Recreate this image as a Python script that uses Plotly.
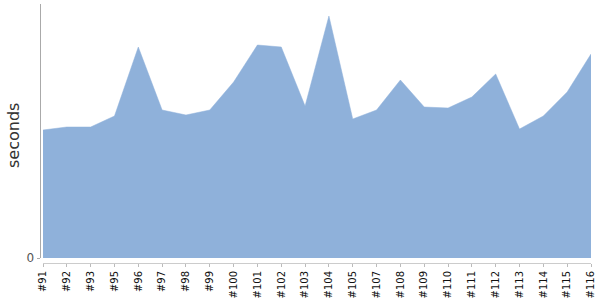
import plotly.graph_objects as go

builds = ["#91", "#92", "#93", "#95", "#96", "#97", "#98", "#99", "#100", "#101",
          "#102", "#103", "#104", "#105", "#107", "#108", "#109", "#110", "#111",
          "#112", "#113", "#114", "#115", "#116"]
seconds = [128, 131, 131, 142, 211, 148, 143, 148, 176, 213,
           211, 152, 242, 139, 148, 178, 151, 150, 161,
           184, 129, 142, 166, 204]

W, H = 600, 300
L, R, T, B = 0, 9, 4, 37
pw = W - L - R
ph = H - T - B

fig = go.Figure()
fig.add_trace(go.Scatter(
    x=list(range(len(builds))), y=seconds, mode="lines",
    fill="tozeroy", fillcolor="rgb(143,177,218)",
    line=dict(color="rgb(143,177,218)", width=0.5),
    hoverinfo="skip", showlegend=False,
))

fig.update_layout(
    width=W, height=H,
    margin=dict(l=L, r=R, t=T, b=B, pad=0, autoexpand=False),
    paper_bgcolor="white", plot_bgcolor="white",
    font=dict(family="DejaVu Sans", color="#222"),
    xaxis=dict(
        domain=[43 / pw, 1], range=[0, len(builds) - 1],
        tickmode="array", tickvals=list(range(len(builds))), ticktext=builds,
        tickangle=-90, tickfont=dict(family="DejaVu Sans", size=10, color="#111"),
        ticks="outside", ticklen=3, tickcolor="#bbb",
        showline=True, linecolor="#ccc", linewidth=1,
        showgrid=False, zeroline=False, automargin=False,
        anchor="free", position=0,
    ),
    yaxis=dict(
        domain=[5 / ph, 1], range=[0, 254],
        tickmode="array", tickvals=[0], ticktext=["0"],
        tickfont=dict(family="DejaVu Sans", size=12, color="#555"),
        ticks="outside", ticklen=3, tickcolor="#aaa",
        showline=True, linecolor="#aaa", linewidth=1,
        showgrid=False, zeroline=False, automargin=False,
        anchor="free", position=39.5 / pw,
    ),
    annotations=[dict(
        text="seconds", xref="paper", yref="paper",
        x=13 / pw, y=(258 - 131 - 5) / (ph - 5) * (1 - 5 / ph) + 5 / ph,
        textangle=-90, showarrow=False, xanchor="center", yanchor="middle",
        font=dict(family="DejaVu Sans", size=16, color="#333"),
    )],
)

fig.write_html("out.html")
